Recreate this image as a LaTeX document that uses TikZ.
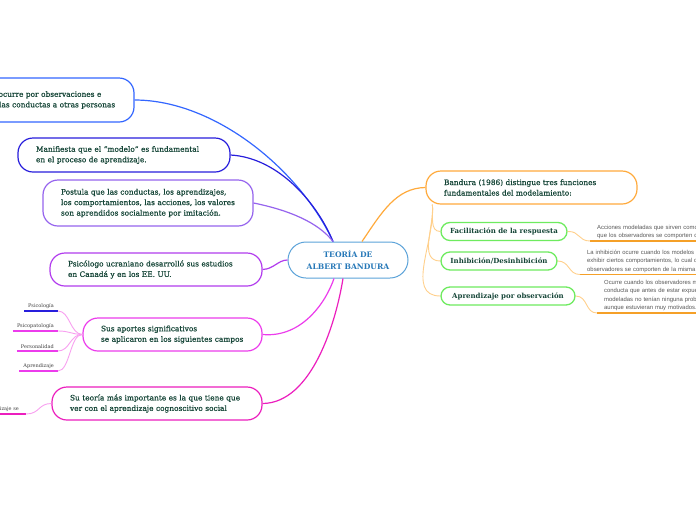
\documentclass[tikz,border=0pt]{standalone}
\usepackage{fontspec}
\setmainfont{DejaVu Serif}
\newfontfamily\ideafont{DejaVu Serif}[FakeBold=0.6]
\newfontfamily\grisfont{Liberation Sans}
\usepackage{xcolor}
\usepackage{tikz}
\usetikzlibrary{calc, positioning}

\definecolor{txtverde}{RGB}{22,70,56}
\definecolor{raizborde}{RGB}{92,163,217}
\definecolor{raiztxt}{RGB}{38,120,184}
\definecolor{azul}{RGB}{51,102,255}
\definecolor{azulv}{RGB}{40,30,220}
\definecolor{violeta}{RGB}{150,100,238}
\definecolor{morado}{RGB}{178,60,238}
\definecolor{magenta1}{RGB}{236,60,236}
\definecolor{rosa}{RGB}{236,30,190}
\definecolor{rosaclaro}{RGB}{248,160,240}
\definecolor{naranja}{RGB}{255,170,60}
\definecolor{naranjaclaro}{RGB}{255,208,140}
\definecolor{naranjaf}{RGB}{245,160,40}
\definecolor{verdeb}{RGB}{110,235,95}

\tikzset{
    idea/.style={draw, line width=1.2pt, rounded corners=15pt, fill=white,
        text=txtverde, align=left, inner xsep=18pt, inner ysep=0pt,
        font=\ideafont\fontsize{7.4}{10.5}\selectfont},
    raiz/.style={draw=raizborde, line width=1pt, rounded corners=18pt, fill=white,
        text=raiztxt, align=center, minimum width=120pt, minimum height=36pt,
        font=\bfseries\fontsize{7.6}{12}\selectfont},
    funcion/.style={draw=verdeb, line width=1.3pt, rounded corners=9pt, fill=white,
        text=txtverde, minimum height=18pt, inner ysep=0pt,
        font=\bfseries\fontsize{7}{9}\selectfont},
    campo/.style={text=black!75, inner xsep=4pt, inner ysep=2pt,
        font=\fontsize{5}{6}\selectfont},
    nota/.style={text=black!65, align=left, inner xsep=7pt, inner ysep=2pt,
        text width=200pt, font=\grisfont\fontsize{5.9}{8.4}\selectfont},
    con/.style={line width=1.2pt},
    hilo/.style={line width=0.9pt}
}

\begin{document}
\begin{tikzpicture}[x=1pt, y=1pt]
    \useasboundingbox (0,0) rectangle (696,-520);
    \fill[white] (0,0) rectangle (696,-520);
    \clip (0,0) rectangle (696,-520);

    % 1. Nodo central
    \node[raiz] (raiz) at (348,-260) {TEORÍA DE\\ALBERT BANDURA};
    \coordinate (rarriba) at ($(raiz.north)+(-15,0)$);
    \coordinate (rabajo1) at ($(raiz.south)+(-14,0)$);
    \coordinate (rabajo2) at ($(raiz.south)+(-5,0)$);
    \coordinate (rder) at ($(raiz.north)+(14,0)$);

    % 2. Ideas de la izquierda
    \node[idea, draw=azul, text width=174pt, minimum height=44pt] (n1) at (29,-100)
        {El aprendizaje ocurre por observaciones e\\imitaciones de las conductas a otras personas};
    \node[idea, draw=azulv, text width=176pt, minimum height=34pt] (n2) at (124,-155)
        {Manifiesta que el “modelo” es fundamental\\en el proceso de aprendizaje.};
    \node[idea, draw=violeta, text width=174pt, minimum height=46pt] (n3) at (148,-203)
        {Postula que las conductas, los aprendizajes,\\los comportamientos, las acciones, los valores\\son aprendidos socialmente por imitación.};
    \node[idea, draw=morado, text width=176pt, minimum height=33pt] (n4) at (156,-269.5)
        {Psicólogo ucraniano desarrolló sus estudios\\en Canadá y en los EE. UU.};
    \node[idea, draw=magenta1, text width=143pt, minimum height=33pt] (n5) at (172.5,-334.5)
        {Sus aportes significativos\\se aplicaron en los siguientes campos};
    \node[idea, draw=rosa, text width=174pt, minimum height=33pt] (n6) at (157,-403.5)
        {Su teoría más importante es la que tiene que\\ver con el aprendizaje cognoscitivo social};

    \draw[con, azul] (n1.east) .. controls (215,-100) and (300,-170) .. (rarriba);
    \draw[con, azulv] (n2.east) .. controls (280,-158) and (318,-205) .. (rarriba);
    \draw[con, violeta] (n3.east) .. controls (288,-210) and (318,-222) .. (rarriba);
    \draw[con, morado] (n4.east) .. controls (274,-269) and (278,-260) .. (raiz.west);
    \draw[con, magenta1] (n5.east) .. controls (302,-338) and (326,-302) .. (rabajo1);
    \draw[con, rosa] (n6.east) .. controls (312,-403) and (336,-322) .. (rabajo2);

    % 3. Campos de aplicacion
    \foreach \nom/\txt/\y/\col in {psi/Psicología/311/azulv, pat/Psicopatología/331/magenta1,
        per/Personalidad/351/magenta1, apz/Aprendizaje/371/magenta1} {
        \node[campo, anchor=south east] (\nom) at (58,-\y) {\txt};
        \draw[\col, line width=1.2pt] (\nom.south west) -- (\nom.south east);
        \draw[hilo, rosaclaro] (\nom.south east) .. controls (70,-\y) and (70,-334) .. (n5.west);
    }

    \node[campo, anchor=south east, inner xsep=7pt] (soc) at (26,-414) {El aprendizaje se};
    \draw[rosa, line width=1.4pt] (soc.south west) -- (soc.south east);
    \draw[hilo, rosaclaro] (soc.south east) .. controls (40,-414) and (38,-403.5) .. (n6.west);

    % 4. Funciones del modelamiento (derecha)
    \node[idea, draw=naranja, text width=175pt, minimum height=33pt] (band) at (531.5,-187.5)
        {Bandura (1986) distingue tres funciones\\fundamentales del modelamiento:};
    \draw[con, naranja] (rder) .. controls (382,-212) and (396,-188) .. (band.west);
    \coordinate (bpie) at ($(band.south west)+(7,0)$);

    \node[funcion, minimum width=126pt] (fac) at (504,-231.5) {Facilitación de la respuesta};
    \node[funcion, minimum width=116pt] (inh) at (499,-261) {Inhibición/Desinhibición};
    \node[funcion, minimum width=134pt] (apo) at (508,-296) {Aprendizaje por observación};

    \foreach \f in {fac, inh, apo}
        \draw[hilo, naranjaclaro] (bpie) to[out=-85, in=180] (\f.west);

    % 5. Notas
    \node[nota, anchor=south west] (facx) at (590,-241)
        {Acciones modeladas que sirven como indicaciones para\\que los observadores se comporten de igual forma.};
    \node[nota, anchor=south west] (inhx) at (580,-274.5)
        {La inhibición ocurre cuando los modelos son castigados por\\exhibir ciertos comportamientos, lo cual detiene a los\\observadores se comporten de la misma manera.};
    \node[nota, anchor=south west] (apox) at (597,-313)
        {Ocurre cuando los observadores muestran una nueva\\conducta que antes de estar expuestos a las conductas\\modeladas no tenían ninguna probabilidad de ocurrir\\aunque estuvieran muy motivados.};

    \foreach \f in {facx, inhx, apox}
        \draw[naranjaf, line width=1.4pt] (\f.south west) -- (\f.south east);
    \draw[hilo, naranjaclaro] (fac.east) .. controls (580,-231) and (578,-241) .. (facx.south west);
    \draw[hilo, naranjaclaro] (inh.east) .. controls (570,-261) and (568,-274.5) .. (inhx.south west);
    \draw[hilo, naranjaclaro] (apo.east) .. controls (588,-296) and (585,-313) .. (apox.south west);

\end{tikzpicture}
\end{document}
